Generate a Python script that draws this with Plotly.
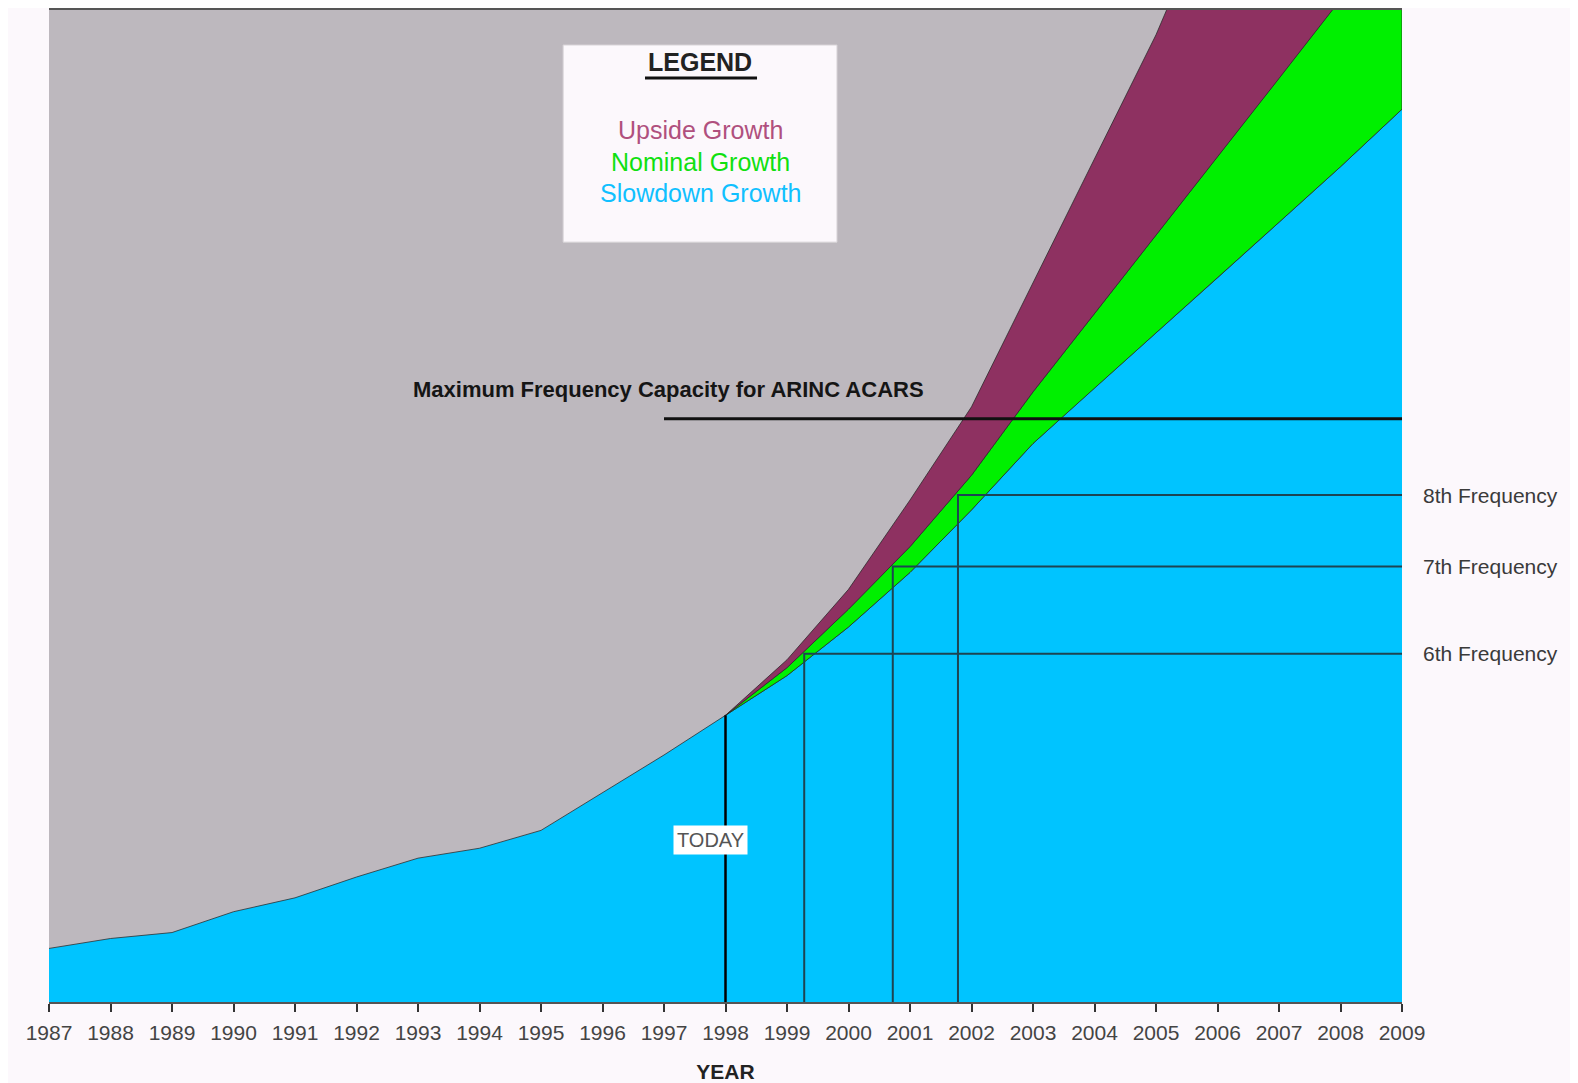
import plotly.graph_objects as go

# ---------------- data ----------------
years_hist = [1987, 1988, 1989, 1990, 1991, 1992, 1993, 1994, 1995, 1996, 1997, 1998]
hist_vals = [5.4, 6.4, 7.0, 9.1, 10.5, 12.6, 14.5, 15.5, 17.3, 21.1, 24.9, 28.9]

years_proj = [1998, 1999, 2000, 2001, 2002, 2003, 2004, 2005, 2006, 2007, 2008, 2009]
slowdown = [28.9, 32.9, 37.8, 43.3, 49.6, 56.3, 61.9, 67.4, 73.0, 78.6, 84.2, 90.0]
nominal = [28.9, 33.7, 39.6, 45.9, 53.1, 61.5, 69.4, 77.3, 85.2, 93.1, 101.0, 109.0]
upside = [28.9, 34.5, 41.6, 50.6, 60.0, 72.5, 85.0, 97.5, 112.0, 128.0, 147.0, 169.0]

today_year = 1998
max_capacity = 58.8
max_capacity_start = 1997.0
freq_labels = ["6th Frequency", "7th Frequency", "8th Frequency"]
freq_years = [1999.28, 2000.72, 2001.78]
freq_levels = [35.1, 43.9, 51.1]

legend_items = ["Upside Growth", "Nominal Growth", "Slowdown Growth"]
tick_years = list(range(1987, 2010))

# ---------------- styles ----------------
GRAY = "#BDB8BE"
CYAN = "#00C4FF"
GREEN = "#00F000"
MAROON = "#8E3161"
EDGE = "rgba(40,40,40,0.75)"
FREQ = "#1d4452"
FONT = "Liberation Sans, Arial, sans-serif"

fig = go.Figure()

# slowdown (cyan) area including history
fig.add_trace(go.Scatter(
    x=years_hist + years_proj[1:], y=hist_vals + slowdown[1:],
    mode="lines", fill="tozeroy", fillcolor=CYAN,
    line=dict(color=EDGE, width=1), hoverinfo="skip", showlegend=False))

# nominal (green) band between slowdown and nominal
fig.add_trace(go.Scatter(
    x=years_proj + years_proj[::-1], y=nominal + slowdown[::-1],
    mode="lines", fill="toself", fillcolor=GREEN,
    line=dict(color=EDGE, width=1), hoverinfo="skip", showlegend=False))

# upside (maroon) band between nominal and upside
fig.add_trace(go.Scatter(
    x=years_proj + years_proj[::-1], y=upside + nominal[::-1],
    mode="lines", fill="toself", fillcolor=MAROON,
    line=dict(color=EDGE, width=1), hoverinfo="skip", showlegend=False))

# frequency lines (vertical to level, then horizontal to end)
x_end = tick_years[-1]
for yr, lvl in zip(freq_years, freq_levels):
    fig.add_trace(go.Scatter(
        x=[yr, yr, x_end], y=[0, lvl, lvl], mode="lines",
        line=dict(color=FREQ, width=2), hoverinfo="skip", showlegend=False))

# today line
fig.add_trace(go.Scatter(
    x=[today_year, today_year], y=[0, hist_vals[-1]], mode="lines",
    line=dict(color="black", width=2.5), hoverinfo="skip", showlegend=False))

# maximum capacity line
fig.add_trace(go.Scatter(
    x=[max_capacity_start, x_end], y=[max_capacity, max_capacity], mode="lines",
    line=dict(color="#111111", width=3), hoverinfo="skip", showlegend=False))

annotations = []
# frequency labels on the right
for lab, lvl in zip(freq_labels, freq_levels):
    annotations.append(dict(
        x=1, xref="paper", y=lvl, yref="y", xanchor="left", yanchor="middle",
        xshift=19, text=lab, showarrow=False,
        font=dict(family=FONT, size=21, color="#3a3a3a")))

# max capacity label
annotations.append(dict(
    x=1997.08, y=max_capacity, xref="x", yref="y", yshift=29,
    xanchor="center", yanchor="middle",
    text="<b>Maximum Frequency Capacity for ARINC ACARS</b>", showarrow=False,
    font=dict(family=FONT, size=22, color="#151515")))

# TODAY label
annotations.append(dict(
    x=1997.76, y=16.3, xref="x", yref="y", text="TODAY", showarrow=False,
    xanchor="center", yanchor="middle",
    bgcolor="white", borderpad=3,
    font=dict(family=FONT, size=20, color="#555555")))

# legend box texts
annotations.append(dict(
    x=0.4812, y=0.9476, xref="paper", yref="paper", text="<b>LEGEND</b>",
    xanchor="center", yanchor="middle",
    showarrow=False, font=dict(family=FONT, size=25, color="#222222")))
legend_colors = ["#B0507E", "#10E010", "#10C0FF"]
legend_ys = [0.879, 0.8468, 0.8155]
for txt, col, yy in zip(legend_items, legend_colors, legend_ys):
    annotations.append(dict(
        x=0.4812, y=yy, xref="paper", yref="paper", text=txt, showarrow=False,
        xanchor="center", yanchor="middle",
        font=dict(family=FONT, size=25, color=col)))

shapes = [
    dict(type="rect", xref="paper", yref="paper", x0=0.380, x1=0.5824,
         y0=0.766, y1=0.9647, fillcolor="#FCF8FC",
         line=dict(color="#d8d4d8", width=1), layer="above"),
    dict(type="line", xref="paper", yref="paper", x0=0.4405, x1=0.5233,
         y0=0.9315, y1=0.9315, line=dict(color="#111111", width=3), layer="above"),
]

fig.update_layout(
    width=1562, height=1075,
    margin=dict(l=41, r=168, t=2, b=81),
    paper_bgcolor="#FCF8FC", plot_bgcolor=GRAY,
    showlegend=False,
    annotations=annotations,
    shapes=shapes,
    xaxis=dict(
        range=[tick_years[0], tick_years[-1]], tickmode="array",
        tickvals=tick_years, ticktext=[str(y) for y in tick_years],
        ticks="outside", ticklen=8, tickcolor="#333333", tickwidth=1.5,
        showgrid=False, zeroline=False, showline=True, linecolor="#555555",
        linewidth=1.5, mirror=True, ticklabelstandoff=3, automargin=False,
        tickfont=dict(family=FONT, size=21, color="#444444"),
        title=dict(text="<b>YEAR</b>", standoff=21,
                   font=dict(family=FONT, size=21, color="#222222"))),
    yaxis=dict(range=[0, 100], showticklabels=False, showgrid=False,
               zeroline=False, showline=False, ticks="", automargin=False),
)

fig.write_html("out.html")
